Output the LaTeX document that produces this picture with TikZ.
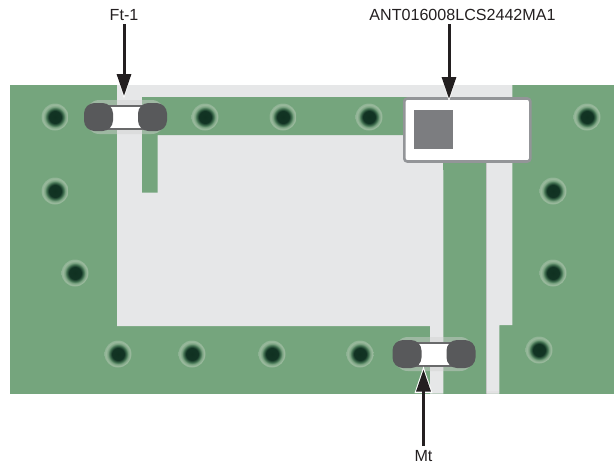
\documentclass[tikz,border=0pt]{standalone}
\usepackage{fontspec}
\setmainfont{Liberation Sans}
\usetikzlibrary{arrows.meta,calc}
\definecolor{pcb}{HTML}{75A57D}
\definecolor{metal}{HTML}{E6E7E8}
\definecolor{capdark}{HTML}{58595B}
\definecolor{chipedge}{HTML}{939598}
\definecolor{chipsq}{HTML}{7C7D80}
\definecolor{ink}{HTML}{231F20}
\definecolor{viaA}{RGB}{16,49,33}
\definecolor{viaB}{RGB}{18,52,36}
\definecolor{viaC}{RGB}{70,118,85}
\definecolor{viaD}{RGB}{125,165,132}
\definecolor{viaE}{RGB}{158,188,160}
\definecolor{viaF}{RGB}{140,178,146}
\pgfdeclareradialshading{viashade}{\pgfpoint{0bp}{0bp}}{
 color(0bp)=(viaA);
 color(11.5bp)=(viaB);
 color(16bp)=(viaC);
 color(19bp)=(viaD);
 color(23bp)=(viaE);
 color(25bp)=(viaF);
 color(50bp)=(viaF)}
\tikzset{
  via/.style={circle,minimum size=27,inner sep=0,shading=viashade},
  capbody/.style={minimum width=31,minimum height=21,inner sep=0,fill=white},
  capcap/.style={rounded corners=10.5,fill=capdark,minimum width=29,minimum height=28,inner sep=0},
  capbar/.style={fill=capdark!90!white,minimum width=40,minimum height=25,inner sep=0},
  caphalo/.style={rounded corners=14,fill=black!18,fill opacity=.45,minimum width=80,minimum height=34,inner sep=0},
  callout/.style={draw=ink,line width=3,-{Triangle[length=22,width=14,fill=ink]}},
  tiphalo/.style={fill=white},
  lab/.style={font=\fontsize{16.1}{18}\selectfont,text=ink,inner sep=0}
}
\begin{document}
\begin{tikzpicture}[x=1pt,y=-1pt]
\useasboundingbox (0,0) rectangle (614,469);
% board and copper-free areas
\fill[pcb] (10,85) rectangle (614,393.7);
\fill[metal] (117,85) -- (512.3,85) -- (512.3,325) -- (499.3,325) -- (499.3,393.7) -- (486,393.7)
  -- (486,150) -- (443.3,150) -- (443.3,393.7) -- (430,393.7) -- (430,326) -- (117,326) -- cycle;
\fill[pcb] (142,97) -- (422,97) -- (422,135) -- (157.5,135) -- (157.5,192.5) -- (142,192.5) -- cycle;
\fill[pcb] (420,97) rectangle (443.3,135);
\fill[pcb] (443.3,97) rectangle (486,170);
\fill[black!30,opacity=.6] (486,162) rectangle (487.4,393.7);
\fill[black!12,opacity=.6] (487.4,391) rectangle (499.3,393.7);
% vias
\foreach \n/\x/\y in {a/55/117,b/205/117,c/283/117,d/369/117,e/587/117,f/55/191,g/553/191,h/75/273,i/553/273,j/539/350,k/118/354,l/192/354,m/272/354,n/360/354}
  \node[via] (via\n) at (\x,\y) {};
% chip antenna
\node[draw=chipedge,line width=2.6,fill=white,rounded corners=3,minimum width=126,minimum height=63,inner sep=0] (ant) at (467.3,130) {};
\node[fill=chipsq,minimum size=39,inner sep=0] (antsq) at (433.5,129.5) {};
% capacitors
\node[caphalo] (fthalo) at (125.5,117) {};
\node[capbar] (ftbar) at (125.5,117) {};
\node[capbody] (ftbody) at (125.5,117) {};
\node[capcap] (ftl) at (98.5,117) {};
\node[capcap] (ftr) at (152.5,117) {};
\node[caphalo] (mthalo) at (434,354) {};
\node[capbar] (mtbar) at (434,354) {};
\node[capbody] (mtbody) at (434,354) {};
\node[capcap] (mtl) at (407,354) {};
\node[capcap] (mtr) at (461,354) {};
% labels
\node[lab] (ftlab) at (124,15) {Ft-1};
\node[lab] (antlab) at (462.5,15) {ANT016008LCS2442MA1};
\node[lab] (mtlab) at (423.5,456.5) {Mt};
% arrow targets
\coordinate (fttip) at (124,96);
\coordinate (anttip) at (449,99);
\coordinate (mttip) at (423.5,369.5);
\coordinate (ftfrom) at (124,24);
\coordinate (antfrom) at (449,24);
\coordinate (mtfrom) at (423.5,446);
% white halos round the arrow heads
\fill[tiphalo] ($(mttip)+(0,-3)$) -- ($(mttip)+(9,23.5)$) -- ($(mttip)+(-9,23.5)$) -- cycle;
\fill[tiphalo] ($(fttip)+(0,2.5)$) -- ($(fttip)+(7.5,-21)$) -- ($(fttip)+(-7.5,-21)$) -- cycle;
\fill[tiphalo] ($(anttip)+(0,2.5)$) -- ($(anttip)+(7.5,-21)$) -- ($(anttip)+(-7.5,-21)$) -- cycle;
\draw[callout] (ftfrom) -- (fttip);
\draw[callout] (antfrom) -- (anttip);
\draw[callout] (mtfrom) -- (mttip);
\end{tikzpicture}
\end{document}
